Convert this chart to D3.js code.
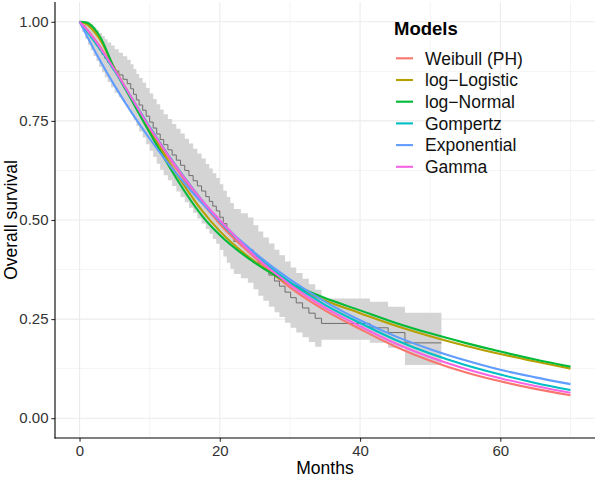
<!DOCTYPE html>
<html><head><meta charset="utf-8">
<script src="https://cdn.jsdelivr.net/npm/d3@7"></script>
<style>body{margin:0;background:#fff} svg{display:block} text{font-family:"Liberation Sans",Arial,sans-serif}</style>
</head><body><svg id="c" width="597" height="478"></svg>
<script>
// ---- data ----
const times       = [0, 1, 2, 3, 5, 7.5, 10, 12.5, 15, 17.5, 20, 25, 30, 35, 40, 45, 50, 55, 60, 65, 70];
const weibull     = [1, 0.982, 0.960, 0.935, 0.880, 0.805, 0.730, 0.663, 0.600, 0.543, 0.490, 0.405, 0.330, 0.272, 0.225, 0.181, 0.145, 0.116, 0.093, 0.074, 0.058];
const logLogistic = [1, 0.994, 0.977, 0.953, 0.882, 0.803, 0.727, 0.653, 0.585, 0.523, 0.472, 0.395, 0.338, 0.297, 0.265, 0.234, 0.207, 0.183, 0.162, 0.143, 0.125];
const logNormal   = [1, 0.998, 0.985, 0.960, 0.880, 0.800, 0.720, 0.643, 0.572, 0.510, 0.462, 0.392, 0.341, 0.303, 0.272, 0.241, 0.214, 0.190, 0.168, 0.148, 0.130];
const gompertz    = [1, 0.977, 0.953, 0.929, 0.876, 0.806, 0.735, 0.668, 0.606, 0.549, 0.497, 0.412, 0.343, 0.286, 0.240, 0.198, 0.163, 0.134, 0.110, 0.089, 0.071];
const exponential = [1, 0.966, 0.932, 0.900, 0.839, 0.769, 0.705, 0.646, 0.592, 0.542, 0.497, 0.417, 0.350, 0.294, 0.247, 0.207, 0.174, 0.146, 0.122, 0.103, 0.086];
const gamma       = [1, 0.981, 0.958, 0.933, 0.879, 0.806, 0.733, 0.667, 0.605, 0.549, 0.500, 0.409, 0.337, 0.279, 0.232, 0.189, 0.154, 0.125, 0.101, 0.081, 0.064];

const modelNames  = ["Weibull (PH)", "log\u2212Logistic", "log\u2212Normal", "Gompertz", "Exponential", "Gamma"];
const modelColors = ["#F8766D", "#B79F00", "#00BA38", "#00BFC4", "#619CFF", "#F564E3"];
const modelValues = [weibull, logLogistic, logNormal, gompertz, exponential, gamma];

// Kaplan-Meier estimate with confidence band
const kmTime  = [0, 0.4, 0.8, 1.2, 1.6, 2.0, 2.4, 2.8, 3.2, 3.6, 4.0, 4.5, 5.0, 5.6, 6.2, 6.8, 7.3, 7.7, 8.1, 8.5, 9.0, 9.5, 10.0, 10.5, 11.0, 11.5, 12.0, 12.6, 13.2, 13.8, 14.4, 15.0, 15.6, 16.2, 16.8, 17.4, 18.0, 18.5, 19.0, 19.5, 20.0, 20.5, 21.0, 21.5, 22.0, 23.0, 24.0, 24.8, 25.5, 26.2, 27.0, 27.8, 28.5, 29.3, 30.1, 30.9, 31.8, 32.7, 33.6, 34.5, 41.4, 44.0, 46.4, 51.6];
const kmSurv  = [1.000, 0.990, 0.980, 0.970, 0.960, 0.950, 0.940, 0.929, 0.918, 0.908, 0.898, 0.887, 0.876, 0.866, 0.855, 0.844, 0.831, 0.817, 0.803, 0.790, 0.777, 0.762, 0.747, 0.732, 0.717, 0.703, 0.690, 0.677, 0.664, 0.651, 0.638, 0.625, 0.612, 0.599, 0.586, 0.573, 0.559, 0.547, 0.535, 0.523, 0.507, 0.491, 0.475, 0.460, 0.446, 0.435, 0.424, 0.406, 0.390, 0.376, 0.361, 0.346, 0.333, 0.318, 0.304, 0.291, 0.278, 0.265, 0.252, 0.239, 0.228, 0.216, 0.190, 0.190];
const kmLower = [1.000, 0.974, 0.957, 0.942, 0.928, 0.914, 0.901, 0.886, 0.873, 0.860, 0.848, 0.835, 0.821, 0.810, 0.797, 0.784, 0.769, 0.753, 0.737, 0.723, 0.708, 0.691, 0.675, 0.659, 0.642, 0.627, 0.613, 0.600, 0.586, 0.572, 0.558, 0.545, 0.531, 0.518, 0.504, 0.491, 0.477, 0.465, 0.452, 0.440, 0.424, 0.408, 0.392, 0.377, 0.364, 0.353, 0.342, 0.325, 0.309, 0.296, 0.281, 0.267, 0.255, 0.241, 0.228, 0.216, 0.204, 0.192, 0.180, 0.198, 0.190, 0.178, 0.134, 0.134];
const kmUpper = [1.000, 1.000, 1.000, 0.998, 0.993, 0.986, 0.979, 0.972, 0.964, 0.956, 0.948, 0.940, 0.931, 0.922, 0.913, 0.904, 0.893, 0.881, 0.869, 0.858, 0.846, 0.833, 0.819, 0.805, 0.792, 0.779, 0.767, 0.755, 0.742, 0.730, 0.718, 0.705, 0.693, 0.680, 0.668, 0.655, 0.641, 0.630, 0.618, 0.606, 0.590, 0.574, 0.558, 0.543, 0.528, 0.517, 0.506, 0.487, 0.471, 0.456, 0.441, 0.425, 0.411, 0.395, 0.380, 0.366, 0.352, 0.338, 0.324, 0.302, 0.294, 0.281, 0.266, 0.266];

const xTicks = [0, 20, 40, 60];
const xMinor = [10, 30, 50, 70];
const yTicks = [0, 0.25, 0.5, 0.75, 1];
const yMinor = [0.125, 0.375, 0.625, 0.875];

// ---- layout ----
const P = {l: 55, r: 595, t: 2, b: 438};
const svg = d3.select("#c");
const x = d3.scaleLinear().domain([-3.5, 73.5]).range([P.l, P.r]);
const y = d3.scaleLinear().domain([-0.05, 1.05]).range([P.b, P.t]);

// grid
const g = svg.append("g");
g.selectAll(".vmin").data(xMinor).join("line")
  .attr("x1", d => x(d)).attr("x2", d => x(d)).attr("y1", P.t).attr("y2", P.b)
  .attr("stroke", "#EBEBEB").attr("stroke-width", 0.55);
g.selectAll(".hmin").data(yMinor).join("line")
  .attr("y1", d => y(d)).attr("y2", d => y(d)).attr("x1", P.l).attr("x2", P.r)
  .attr("stroke", "#EBEBEB").attr("stroke-width", 0.55);
g.selectAll(".vmaj").data(xTicks).join("line")
  .attr("x1", d => x(d)).attr("x2", d => x(d)).attr("y1", P.t).attr("y2", P.b)
  .attr("stroke", "#EBEBEB").attr("stroke-width", 1.1);
g.selectAll(".hmaj").data(yTicks).join("line")
  .attr("y1", d => y(d)).attr("y2", d => y(d)).attr("x1", P.l).attr("x2", P.r)
  .attr("stroke", "#EBEBEB").attr("stroke-width", 1.1);

// KM band + line
const km = kmTime.map((t, i) => ({t, s: kmSurv[i], lo: kmLower[i], hi: kmUpper[i]}));
svg.append("path").datum(km)
  .attr("d", d3.area().curve(d3.curveStepAfter).x(d => x(d.t)).y0(d => y(d.lo)).y1(d => y(d.hi)))
  .attr("fill", "#D4D4D4");
svg.append("path").datum(km)
  .attr("d", d3.line().curve(d3.curveStepAfter).x(d => x(d.t)).y(d => y(d.s)))
  .attr("fill", "none").attr("stroke", "#6E6E6E").attr("stroke-width", 1);

// model curves
const line = d3.line().curve(d3.curveMonotoneX).x(d => x(d[0])).y(d => y(d[1]));
modelValues.forEach((vals, i) => {
  svg.append("path").datum(times.map((t, j) => [t, vals[j]]))
    .attr("d", line).attr("fill", "none")
    .attr("stroke", modelColors[i]).attr("stroke-width", 2.1);
});

// axes
const ax = svg.append("g").attr("transform", `translate(0,${P.b})`)
  .call(d3.axisBottom(x).tickValues(xTicks).tickFormat(d3.format("d")).tickSize(3.7).tickSizeOuter(0).tickPadding(3.5));
const ay = svg.append("g").attr("transform", `translate(${P.l},0)`)
  .call(d3.axisLeft(y).tickValues(yTicks).tickFormat(d3.format(".2f")).tickSize(3.7).tickSizeOuter(0).tickPadding(2.8));
[ax, ay].forEach(a => {
  a.select(".domain").remove();
  a.selectAll(".tick line").attr("stroke", "#333").attr("stroke-width", 1.1);
  a.selectAll(".tick text").attr("fill", "#333").style("font-size", "15px")
    .style("font-family", '"Liberation Sans", Arial, sans-serif');
});
svg.append("line").attr("x1", P.l).attr("x2", P.l).attr("y1", P.t).attr("y2", P.b + 0.5)
  .attr("stroke", "#000").attr("stroke-width", 1.1);
svg.append("line").attr("x1", P.l - 0.5).attr("x2", P.r).attr("y1", P.b).attr("y2", P.b)
  .attr("stroke", "#000").attr("stroke-width", 1.1);

// axis titles
svg.append("text").attr("x", (P.l + P.r) / 2).attr("y", 473.5).attr("text-anchor", "middle")
  .style("font-size", "17.5px").attr("fill", "#000").text("Months");
svg.append("text").attr("transform", `translate(16.5,${(P.t + P.b) / 2}) rotate(-90)`).attr("text-anchor", "middle")
  .style("font-size", "17.5px").attr("fill", "#000").text("Overall survival");

// legend
const lg = svg.append("g");
lg.append("text").attr("x", 394).attr("y", 35).style("font-size", "18.5px").style("font-weight", "bold")
  .attr("fill", "#000").text("Models");
modelNames.forEach((name, i) => {
  const cy = 58.3 + i * 21.7;
  lg.append("line").attr("x1", 396).attr("x2", 413).attr("y1", cy).attr("y2", cy)
    .attr("stroke", modelColors[i]).attr("stroke-width", 2.1);
  lg.append("text").attr("x", 425).attr("y", cy + 6.2).style("font-size", "17.5px")
    .attr("fill", "#111").text(name);
});
</script></body></html>
